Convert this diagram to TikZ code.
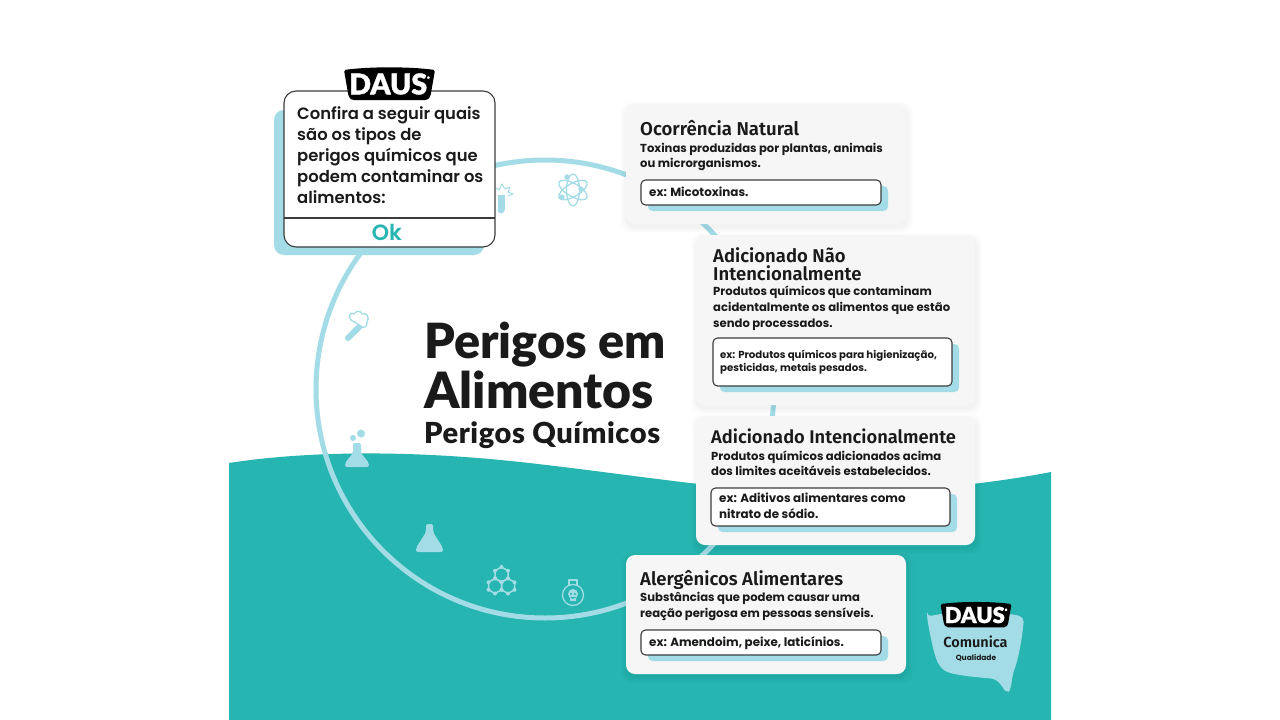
\documentclass[tikz,border=0pt]{standalone}
\usepackage{fontspec}
\setmainfont{Poppins}[BoldFont=Poppins SemiBold]
\newfontfamily\smallfont{Poppins}[BoldFont=Poppins Bold]
\newfontfamily\headfont{Lato}[BoldFont=Lato Black]
\newfontfamily\subfont{Lato}[BoldFont=Lato Black,LetterSpace=2]
\newfontfamily\badgefont{Lato Black}[FakeBold=1.2]
\newfontfamily\titlefont{Fira Sans}[BoldFont=Fira Sans SemiBold]
\definecolor{ink}{HTML}{1A1A1A}
\definecolor{teal}{HTML}{26B5B0}
\definecolor{sky}{HTML}{A3DCE6}
\definecolor{cardgray}{HTML}{F6F6F6}
\definecolor{edge}{HTML}{3C3C3C}
\tikzset{
  iconfill/.style={fill=sky,draw=none},
  iconline/.style={draw=sky,line width=1.3pt,line cap=round,line join=round},
  cardbox/.style={fill=cardgray,rounded corners=9pt},
  exbox/.style={fill=white,draw=edge,line width=1.1pt,rounded corners=4.5pt},
  exshadow/.style={fill=sky,rounded corners=4.5pt},
  textline/.style={anchor=base west,inner sep=0pt,text=ink},
}
\begin{document}
\begin{tikzpicture}[x=1pt,y=-1pt]
  \useasboundingbox (0,0) rectangle (1280,720);
  \fill[white] (0,0) rectangle (1280,720);

  % One text line per node, baselines typed in.
  \newcommand{\textlines}[6]{%
    \foreach \t [count=\i from 0] in {#6} {%
      \pgfmathsetmacro{\ybase}{#3+\i*#4}%
      \node[textline,font=#5] (#1-\i) at (#2,\ybase) {\t};%
    }%
  }
  % Card with soft shadow. Shadow is a few stacked faint boxes.
  \newcommand{\card}[5]{%
    \foreach \g in {6,5,...,1} {%
      \fill[black,opacity=0.009,rounded corners=10pt]
        ({#2-\g+1},{#3-\g+4}) rectangle ({#4+\g+1},{#5+\g+3});%
    }%
    \path[cardbox] (#2,#3) rectangle (#4,#5) coordinate (#1);%
  }
  % White example box with the blue block behind it.
  \newcommand{\exblock}[5]{%
    \fill[exshadow] ({#2+7},{#3+6}) rectangle ({#4+7},{#5+6});%
    \path[exbox] (#2,#3) rectangle (#4,#5) coordinate (#1);%
  }
  % Black DAUS label; #1 name, #2 center x, #3 center y, #4 scale, #5 font size.
  \newcommand{\dausbadge}[5]{%
    \begin{scope}[shift={(#2,#3)},scale=#4]
      \fill[black,rounded corners=1.5pt] (-45.5,-14) .. controls (-20,-17.5) and (20,-17.5) .. (45.5,-14)
        -- (41,12) .. controls (39,15) and (38,16) .. (34,16)
        -- (-34,16) .. controls (-38,16) and (-39,15) .. (-41,12) -- cycle;
    \end{scope}%
    \node[inner sep=0pt,text=white,font={\badgefont\fontsize{#5}{#5}\selectfont}] (#1) at (#2,#3) {DAUS\raisebox{0.55em}{\fontsize{3}{3}\selectfont ®}};%
  }

  % Teal ground with the wave on top, then the big ring.
  \fill[teal] (229,720) -- (229,463) .. controls (300,452) and (400,449) .. (520,462)
    .. controls (640,475) and (760,497) .. (860,493)
    .. controls (930,490) and (1000,482) .. (1051,472) -- (1051,720) -- cycle;
  \draw[sky,line width=5pt] (545,389) circle (229);

  % Icons along the ring.
  \draw[sky,line width=7pt] (501,195) -- (501,210);
  \fill[sky] (501,210) circle (3.5);
  \draw[iconline,line width=1pt] (496,188) -- (499,190) -- (502,184) -- (505,189) -- (510,187) -- (508,192) -- (513,194) -- (508,196);
  \foreach \a in {0,60,120} {
    \draw[iconline] (573,190) ellipse[x radius=16,y radius=6.5,rotate=\a+30];
  }
  \foreach \dx/\dy in {-6/-13,8/-1,-11/7} {
    \fill[sky] ({573+\dx},{190+\dy}) circle (2.6);
  }
  \draw[sky,line width=6pt,line cap=round] (348,338) -- (361,325);
  \draw[iconline,fill=white] (351,320) .. controls (347,315) and (351,312) .. (354,314)
    .. controls (356,310) and (362,311) .. (362,314) .. controls (367,312) and (370,318) .. (367,322)
    .. controls (368,327) and (362,329) .. (361,326) .. controls (358,324) and (354,322) .. (351,320) -- cycle;
  \fill[sky] (353,438) circle (3) (361,433.5) circle (4);
  \fill[sky,rounded corners=2pt] (353,443) -- (361,443) -- (361,453) -- (369,463) -- (369,467) -- (345,467) -- (345,463) -- (353,453) -- cycle;
  \fill[sky,rounded corners=2pt] (426,524) -- (433,524) -- (433,532) -- (443,548) -- (443,552) -- (416,552) -- (416,548) -- (426,532) -- cycle;
  \foreach \cx/\cy in {501.5/574.5,495/586,508/586} {
    \draw[iconline,line width=1.5pt] (\cx,\cy) +(90:7.5) -- +(30:7.5) -- +(-30:7.5) -- +(-90:7.5) -- +(-150:7.5) -- +(150:7.5) -- cycle;
    \foreach \a in {30,90,...,330} {\fill[sky] (\cx,\cy) +(\a:7.5) circle (2);}
  }
  \draw[iconline] (573,595) circle (10.5);
  \draw[iconline] (569,585) -- (569,580) -- (577,580) -- (577,585);
  \fill[sky] (573,594) circle (5) (570,597) rectangle (576,601);
  \fill[teal] (571,594) circle (1.2) (575,594) circle (1.2);

  % Dialog box top left.
  \fill[sky,rounded corners=10pt] (274,110) rectangle (484,255);
  \path[fill=white,draw=edge,line width=1.1pt,rounded corners=12pt] (284,91) rectangle (495,247) coordinate (dialog);
  \draw[edge,line width=1.1pt] (284,218) -- (495,218);
  \dausbadge{dausTop}{389.5}{84}{1}{28.5}
  \textlines{dialogText}{297}{119}{21}{\bfseries\fontsize{16.4}{16.4}\selectfont}{Confira a seguir quais,são os tipos de,perigos químicos que,podem contaminar os,alimentos:}
  \node[inner sep=0pt,text=teal,font={\bfseries\fontsize{22}{22}\selectfont}] (okLabel) at (387,232) {Ok};

  % Center title.
  \node[textline,font={\headfont\bfseries\fontsize{48.5}{48.5}\selectfont}] (mainTitleA) at (424,358) {Perigos em};
  \node[textline,font={\headfont\bfseries\fontsize{50}{50}\selectfont}] (mainTitleB) at (424,408) {Alimentos};
  \node[textline,font={\subfont\bfseries\fontsize{29}{29}\selectfont}] (subTitle) at (424,443) {Perigos Químicos};

  % Four cards, right side.
  \card{cardNatural}{626}{104}{906}{224}
  \textlines{naturalHead}{640}{135}{18}{\titlefont\bfseries\fontsize{18.6}{18.6}\selectfont}{Ocorrência Natural}
  \textlines{naturalBody}{640}{152}{15.5}{\smallfont\bfseries\fontsize{11.6}{11.6}\selectfont}{{Toxinas produzidas por plantas, animais},ou microrganismos.}
  \exblock{exNatural}{641}{180}{881}{205}
  \textlines{naturalEx}{649}{196}{16}{\smallfont\bfseries\fontsize{11.9}{11.9}\selectfont}{ex: Micotoxinas.}

  \card{cardUnint}{696}{235}{975}{405}
  \textlines{unintHead}{713}{262}{18.5}{\titlefont\bfseries\fontsize{18.5}{18.5}\selectfont}{Adicionado Não,Intencionalmente}
  \textlines{unintBody}{713}{295}{16}{\smallfont\bfseries\fontsize{11.6}{11.6}\selectfont}{Produtos químicos que contaminam,acidentalmente os alimentos que estão,sendo processados.}
  \exblock{exUnint}{713}{338}{952}{386}
  \textlines{unintEx}{720}{358}{13}{\smallfont\bfseries\fontsize{10.2}{10.2}\selectfont}{{ex: Produtos químicos para higienização,},{pesticidas, metais pesados.}}

  \card{cardInt}{696}{416}{975}{545}
  \textlines{intHead}{711}{443}{18}{\titlefont\bfseries\fontsize{18.3}{18.3}\selectfont}{Adicionado Intencionalmente}
  \textlines{intBody}{711}{460}{15.5}{\smallfont\bfseries\fontsize{11.6}{11.6}\selectfont}{Produtos químicos adicionados acima,dos limites aceitáveis estabelecidos.}
  \exblock{exInt}{711}{488}{950}{526}
  \textlines{intEx}{719}{502}{16}{\smallfont\bfseries\fontsize{11.9}{11.9}\selectfont}{ex: Aditivos alimentares como,nitrato de sódio.}

  \card{cardAllerg}{626}{555}{906}{674}
  \textlines{allergHead}{640}{585}{18}{\titlefont\bfseries\fontsize{18.5}{18.5}\selectfont}{Alergênicos Alimentares}
  \textlines{allergBody}{640}{601}{16}{\smallfont\bfseries\fontsize{11.6}{11.6}\selectfont}{Substâncias que podem causar uma,reação perigosa em pessoas sensíveis.}
  \exblock{exAllerg}{641}{630}{881}{655}
  \textlines{allergEx}{649}{646}{16}{\smallfont\bfseries\fontsize{11.9}{11.9}\selectfont}{{ex: Amendoim, peixe, laticínios.}}

  % Small logo bottom right.
  \fill[sky,rounded corners=5pt] (927,617) .. controls (950,611) and (1000,611) .. (1024,617)
    .. controls (1022,640) and (1018,660) .. (1013,673) -- (1011,687) .. controls (1009,692) and (1005,691) .. (1002,686)
    -- (996,679) .. controls (975,677) and (950,675) .. (940,667) .. controls (934,655) and (930,635) .. (927,617) -- cycle;
  \dausbadge{dausSmall}{976}{615}{0.78}{22}
  \node[inner sep=0pt,text=ink,font={\titlefont\bfseries\fontsize{14.5}{14.5}\selectfont}] (comunicaLabel) at (975.5,642) {Comunica};
  \node[inner sep=0pt,text=ink,font={\smallfont\bfseries\fontsize{7.5}{7.5}\selectfont}] (qualidadeLabel) at (976,657.5) {Qualidade};
\end{tikzpicture}
\end{document}
